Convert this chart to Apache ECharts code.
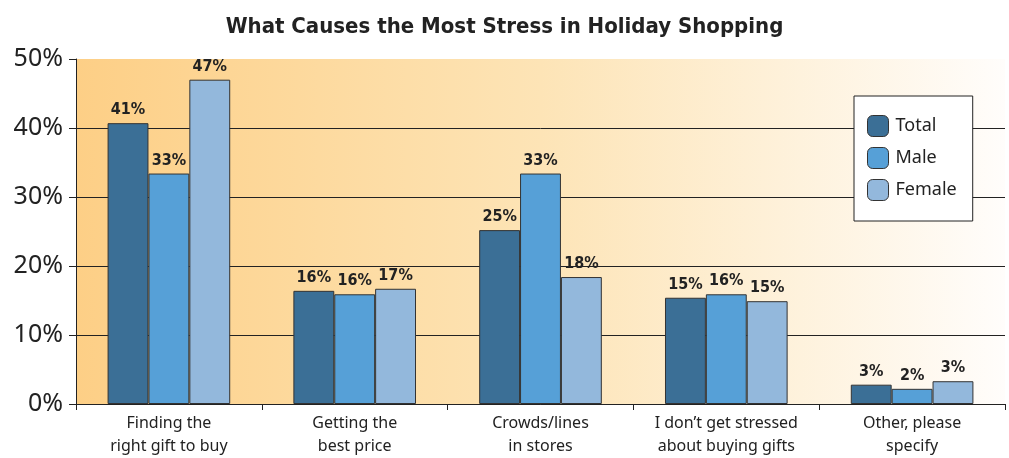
<!DOCTYPE html>
<html>
<head>
<meta charset="utf-8">
<script src="https://cdn.jsdelivr.net/npm/echarts@6/dist/echarts.min.js"></script>
<style>
html,body{margin:0;padding:0;background:#fff;}
#chart{width:1009px;height:458px;}
</style>
</head>
<body>
<div id="chart"></div>
<script>
const titleText = 'What Causes the Most Stress in Holiday Shopping';
const categories = ['Finding the\nright gift to buy', 'Getting the\nbest price', 'Crowds/lines\nin stores', 'I don\u2019t get stressed\nabout buying gifts', 'Other, please\nspecify'];
const seriesNames = ['Total', 'Male', 'Female'];
const totalValues = [40.7, 16.4, 25.2, 15.4, 2.8];
const maleValues = [33.4, 15.9, 33.4, 15.9, 2.2];
const femaleValues = [47.0, 16.7, 18.4, 14.9, 3.3];
const yTicks = [0, 10, 20, 30, 40, 50];

const colors = ['#3b6f96', '#56a0d7', '#93b8dc'];
const condensed = "'DejaVu Sans Condensed', 'Liberation Sans', sans-serif";
const chart = echarts.init(document.getElementById('chart'));
const labelStyle = {
  show: true, position: 'top', distance: 5,
  fontFamily: condensed, fontWeight: 'bold', fontSize: 16, color: '#222',
  formatter: p => Math.round(p.value) + '%'
};
function mk(name, data, i) {
  return {
    name: name, type: 'bar', data: data, barGap: '0%', barCategoryGap: '34%',
    itemStyle: { color: colors[i], borderColor: '#333', borderWidth: 1 },
    label: labelStyle
  };
}
chart.setOption({
  animation: false,
  title: {
    text: titleText, left: 'center', top: 11,
    textStyle: { fontFamily: condensed, fontWeight: 'bold', fontSize: 22, color: '#222' }
  },
  legend: {
    data: seriesNames, orient: 'vertical', left: 854, top: 96,
    padding: [19, 16, 20, 13], itemGap: 10, itemWidth: 21, itemHeight: 21,
    backgroundColor: '#fff', borderColor: '#222', borderWidth: 1,
    textStyle: { fontFamily: 'Noto Sans', fontSize: 18, color: '#222', padding: [0, 0, 0, 2] },
    itemStyle: { borderColor: '#333', borderWidth: 1 }
  },
  grid: {
    left: 76, right: 4, top: 59, bottom: 53, show: true, borderWidth: 0,
    backgroundColor: new echarts.graphic.LinearGradient(0, 0, 1, 0, [
      { offset: 0, color: '#fdcf86' },
      { offset: 0.5, color: '#fde4b6' },
      { offset: 1, color: '#fffdfb' }
    ])
  },
  xAxis: {
    type: 'category', data: categories,
    axisLine: { lineStyle: { color: '#222', width: 1 } },
    axisTick: { show: true, interval: 0, length: 6, lineStyle: { color: '#222' } },
    axisLabel: { interval: 0, fontFamily: 'Noto Sans', fontSize: 16, color: '#222', lineHeight: 23, margin: 8 }
  },
  yAxis: {
    type: 'value', min: 0, max: 50, interval: 10,
    axisLine: { show: true, lineStyle: { color: '#222', width: 1 } },
    axisTick: { show: true, length: 7, lineStyle: { color: '#222' } },
    axisLabel: { fontFamily: 'Noto Sans', fontSize: 25, color: '#222', margin: 13,
      formatter: v => yTicks.includes(v) ? v + '%' : '' },
    splitLine: { show: true, lineStyle: { color: ['#222', '#222', '#222', '#222', '#222', 'rgba(0,0,0,0)'], width: 1 } }
  },
  series: [mk(seriesNames[0], totalValues, 0), mk(seriesNames[1], maleValues, 1), mk(seriesNames[2], femaleValues, 2)]
});
</script>
</body>
</html>
